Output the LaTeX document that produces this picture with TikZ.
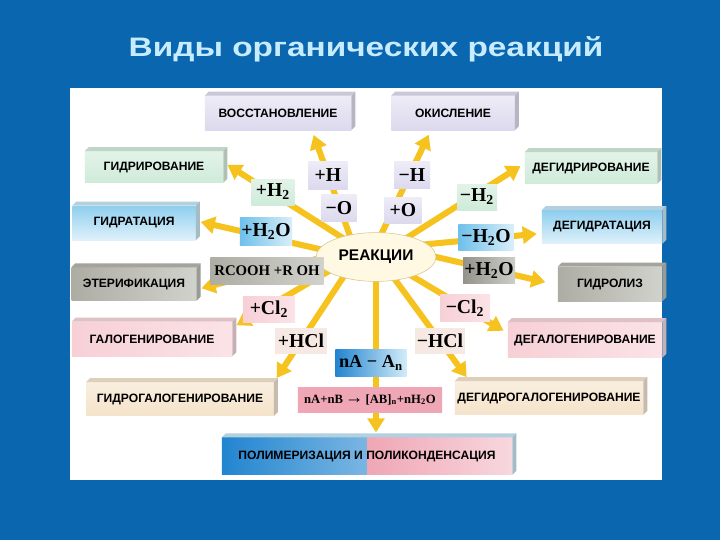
\documentclass[tikz,border=0pt]{standalone}
\usepackage{fontspec}
\setmainfont{Liberation Serif}
\setsansfont{Liberation Sans}
\newfontfamily\headfont[FakeStretch=1.25]{Liberation Sans}
\usetikzlibrary{positioning,shapes.geometric,arrows.meta}

\definecolor{bgblue}{HTML}{0A66AF}
\definecolor{titlecol}{HTML}{C8ECFF}
\definecolor{lav}{HTML}{DCD9EE}
\definecolor{mint}{HTML}{CFEBD9}
\definecolor{sky}{HTML}{BFE4F6}
\definecolor{skydeep}{HTML}{6FC0EA}
\definecolor{stone}{HTML}{ADADA4}
\definecolor{rose}{HTML}{F7D0D6}
\definecolor{sand}{HTML}{F5E3CA}
\definecolor{blush}{HTML}{F6E9E3}
\definecolor{polyblue}{HTML}{2285D0}
\definecolor{polypink}{HTML}{EFA6B5}
\definecolor{rayyellow}{HTML}{F6C21E}
\definecolor{ellcream}{HTML}{FFF9E3}
\definecolor{ellline}{HTML}{D6C68C}

\pgfdeclarelayer{bg}
\pgfdeclarelayer{rays}
\pgfsetlayers{bg,rays,main}

\tikzset{
  plate/.style={rectangle, inner sep=0pt, font=\sffamily\bfseries\fontsize{8.6}{10}\selectfont},
  tag/.style={rectangle, inner sep=0pt, font=\rmfamily\bfseries\fontsize{14}{16}\selectfont},
  ray/.style={draw=rayyellow, line width=4.3pt, -{Triangle[width=12pt,length=10pt]}, shorten >=3.5pt, shorten <=-4pt},
}

\begin{document}
\begin{tikzpicture}[x=0.025cm, y=-0.025cm]
  %\draw[help lines, step=20] (0,0) grid (720,540);

  \begin{pgfonlayer}{bg}
    \fill[bgblue] (0,0) rectangle (720,540);
    \fill[white] (70,88) rectangle (662,480);
  \end{pgfonlayer}

  \node [anchor=base, font=\headfont\bfseries\fontsize{19}{22}\selectfont, text=titlecol] (title) at (366,56) {Виды органических реакций};

  \node [ellipse, draw=ellline, fill=ellcream, minimum width=3cm, minimum height=1.22cm, inner sep=0pt, font=\sffamily\bfseries\fontsize{11}{13}\selectfont] (reak) at (376,257) {РЕАКЦИИ};

  % reaction types
  \node [plate, top color=white!50!lav, bottom color=lav, minimum width=3.65cm, minimum height=0.85cm] (reduction) at (278,113) {ВОССТАНОВЛЕНИЕ};
  \node [plate, top color=white!50!lav, bottom color=lav, minimum width=3.08cm, minimum height=0.85cm] (oxidation) at (453,113) {ОКИСЛЕНИЕ};
  \node [plate, top color=white!40!mint, bottom color=mint, minimum width=3.45cm, minimum height=0.78cm] (hydrogenation) at (154,167) {ГИДРИРОВАНИЕ};
  \node [plate, top color=white!40!mint, bottom color=mint, minimum width=3.3cm, minimum height=0.78cm] (dehydrogenation) at (591,168) {ДЕГИДРИРОВАНИЕ};
  \node [plate, top color=skydeep!60!sky, bottom color=white!50!sky, minimum width=3.08cm, minimum height=0.85cm] (hydration) at (134,223) {ГИДРАТАЦИЯ};
  \node [plate, top color=skydeep!60!sky, bottom color=white!50!sky, minimum width=3cm, minimum height=0.83cm] (dehydration) at (602,227) {ДЕГИДРАТАЦИЯ};
  \node [plate, left color=stone, right color=white!45!stone, minimum width=3.12cm, minimum height=0.82cm] (esterification) at (134,284) {ЭТЕРИФИКАЦИЯ};
  \node [plate, left color=stone, right color=white!45!stone, minimum width=2.6cm, minimum height=0.85cm] (hydrolysis) at (610,284) {ГИДРОЛИЗ};
  \node [plate, left color=rose, right color=white!40!rose, minimum width=4cm, minimum height=0.85cm] (halogenation) at (152,339) {ГАЛОГЕНИРОВАНИЕ};
  \node [plate, left color=rose, right color=white!40!rose, minimum width=3.85cm, minimum height=0.88cm] (dehalogenation) at (585,340) {ДЕГАЛОГЕНИРОВАНИЕ};
  \node [plate, top color=white!40!sand, bottom color=sand, minimum width=4.68cm, minimum height=0.83cm] (hydrohalogenation) at (180,399) {ГИДРОГАЛОГЕНИРОВАНИЕ};
  \node [plate, top color=white!40!sand, bottom color=sand, minimum width=4.7cm, minimum height=0.83cm] (dehydrohalogenation) at (549,398) {ДЕГИДРОГАЛОГЕНИРОВАНИЕ};
  \node [plate, minimum width=7.25cm, minimum height=0.92cm, path picture={
      \shade[left color=polyblue, right color=polyblue!20!white] (path picture bounding box.south west) rectangle (path picture bounding box.north);
      \shade[left color=polypink, right color=polypink!45!white] (path picture bounding box.south) rectangle (path picture bounding box.north east);
    }] (polymer) at (367,456) {ПОЛИМЕРИЗАЦИЯ И ПОЛИКОНДЕНСАЦИЯ};

  \foreach \n/\c in {reduction/lav, oxidation/lav, hydrogenation/mint, dehydrogenation/mint, hydration/sky, dehydration/sky, esterification/stone, hydrolysis/stone, halogenation/rose, dehalogenation/rose, hydrohalogenation/sand, dehydrohalogenation/sand, polymer/sky} {
    \fill[\c!80!gray] (\n.north west) -- ++(4,-4) -- ([shift={(4,-4)}]\n.north east) -- (\n.north east) -- cycle;
    \fill[\c!60!gray] (\n.north east) -- ++(4,-4) -- ([shift={(4,-4)}]\n.south east) -- (\n.south east) -- cycle;
  }

  % reagents
  \node [tag, top color=white!50!lav, bottom color=lav, minimum width=0.98cm, minimum height=0.7cm] (plusH) at (328,175) {+H};
  \node [tag, top color=white!50!lav, bottom color=lav, minimum width=0.88cm, minimum height=0.68cm] (minusO) at (339,208) {−O};
  \node [tag, top color=white!50!lav, bottom color=lav, minimum width=0.9cm, minimum height=0.68cm] (minusH) at (412,175) {−H};
  \node [tag, top color=white!50!lav, bottom color=lav, minimum width=0.92cm, minimum height=0.65cm] (plusO) at (403,210) {+O};
  \node [tag, top color=white!40!mint, bottom color=mint, minimum width=1.08cm, minimum height=0.65cm] (plusHtwo) at (273,192) {+H\textsubscript{2}};
  \node [tag, top color=white!40!mint, bottom color=mint, minimum width=1cm, minimum height=0.65cm] (minusHtwo) at (477,197) {−H\textsubscript{2}};
  \node [tag, left color=skydeep, right color=white!40!sky, minimum width=1.3cm, minimum height=0.7cm] (plusWaterL) at (266,231) {+H\textsubscript{2}O};
  \node [tag, left color=skydeep, right color=white!40!sky, minimum width=1.38cm, minimum height=0.65cm] (minusWater) at (486,237) {−H\textsubscript{2}O};
  \node [tag, left color=stone, right color=white!45!stone, minimum width=2.83cm, minimum height=0.68cm, font=\rmfamily\bfseries\fontsize{10.5}{12}\selectfont] (rcooh) at (267,271) {RCOOH +R OH};
  \node [tag, left color=stone!85!black, right color=white!40!stone, minimum width=1.3cm, minimum height=0.65cm] (plusWaterR) at (489,270) {+H\textsubscript{2}O};
  \node [tag, left color=rose, right color=white!40!rose, minimum width=1.3cm, minimum height=0.65cm] (plusCl) at (269,309) {+Cl\textsubscript{2}};
  \node [tag, left color=rose, right color=white!40!rose, minimum width=1.25cm, minimum height=0.68cm] (minusCl) at (465,308) {−Cl\textsubscript{2}};
  \node [tag, fill=blush, minimum width=1.3cm, minimum height=0.65cm] (plusHCl) at (301,341) {+HCl};
  \node [tag, fill=blush, minimum width=1.25cm, minimum height=0.65cm] (minusHCl) at (440,341) {−HCl};
  \node [tag, left color=polyblue, right color=white!30!sky, minimum width=1.78cm, minimum height=0.68cm, font=\rmfamily\bfseries\fontsize{13}{15}\selectfont] (polyA) at (371,363) {nA − A\textsubscript{n}};
  \node [tag, left color=polypink, middle color=white!55!polypink, right color=polypink, minimum width=3.6cm, minimum height=0.62cm, font=\rmfamily\bfseries\fontsize{9}{11}\selectfont] (polyAB) at (370,400) {nA+nB\,{\fontsize{13}{11}\selectfont →}\,[AB]\textsubscript{n}+nH\textsubscript{2}O};

  \begin{pgfonlayer}{rays}
    \foreach \a/\b in {140/reduction.-27, 76/oxidation.-142, 150/hydrogenation.4, 32/dehydrogenation.176, 172/hydration.2, 14/dehydration.186, 182/esterification.-5, 197/halogenation.8, -28/dehalogenation.175, -148/hydrohalogenation.north east, -50/dehydrohalogenation.168}
      \draw[ray] (reak.\a) -- (\b);
    \draw[ray, shorten >=9pt] (reak.0) -- (hydrolysis.181);
    \draw[ray] (reak.south) -- (reak.south |- polymer.north);
  \end{pgfonlayer}
\end{tikzpicture}
\end{document}
